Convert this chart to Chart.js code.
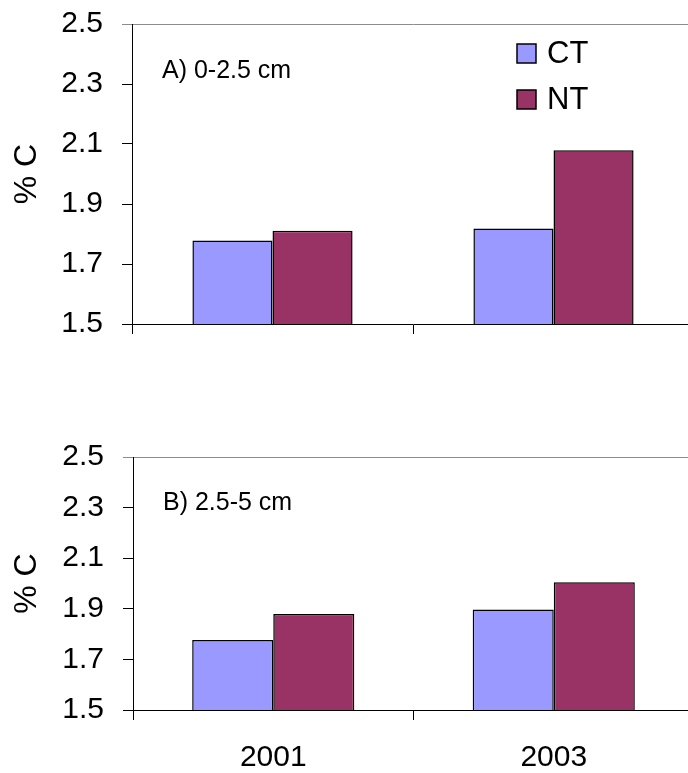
<!DOCTYPE html>
<html>
<head>
<meta charset="utf-8">
<script src="https://cdn.jsdelivr.net/npm/chart.js@4/dist/chart.umd.min.js"></script>
<style>
  html, body { margin: 0; padding: 0; background: #fff; overflow: hidden; width: 688px; height: 773px; }
  .panel { position: absolute; left: 0; width: 700px; }
</style>
</head>
<body>
<div class="panel" style="top:0;height:345px"><canvas id="chartA" width="700" height="345"></canvas></div>
<div class="panel" style="top:440px;height:333px"><canvas id="chartB" width="700" height="333"></canvas></div>
<script>
// data
const years = ['2001', '2003'];
const seriesNames = ['CT', 'NT'];
const ctShallow = [1.778, 1.818];   // A) 0-2.5 cm
const ntShallow = [1.811, 2.079];
const ctDeep = [1.777, 1.897];      // B) 2.5-5 cm
const ntDeep = [1.879, 2.005];
const yMin = 1.5, yMax = 2.5, yStep = 0.2;

const CT_COLOR = '#9999FF';
const NT_COLOR = '#993366';
const FONT = '"Liberation Sans", Arial, Helvetica, sans-serif';

Chart.defaults.font.family = FONT;
Chart.defaults.color = '#000';

// panel label + legend drawn on top of the plot
const panelText = {
  id: 'panelText',
  afterDraw(chart, args, opts) {
    const ctx = chart.ctx;
    ctx.save();
    ctx.fillStyle = '#000';
    ctx.textBaseline = 'alphabetic';
    ctx.font = '25px ' + FONT;
    ctx.fillText(opts.label, opts.labelX, opts.labelY);
    if (opts.legend) {
      ctx.font = '31px ' + FONT;
      chart.data.datasets.forEach((ds, i) => {
        const y = 44 + i * 46;
        ctx.fillStyle = ds.backgroundColor;
        ctx.fillRect(517, y, 19, 19);
        ctx.strokeStyle = '#000';
        ctx.lineWidth = 1.5;
        ctx.strokeRect(517, y, 19, 19);
        ctx.fillStyle = '#000';
        ctx.fillText(ds.label, 547, y + 18.5);
      });
    }
    ctx.restore();
  }
};

function makeChart(id, ct, nt, cfg) {
  return new Chart(document.getElementById(id), {
    type: 'bar',
    data: {
      labels: years,
      datasets: [
        { label: seriesNames[0], data: ct, backgroundColor: CT_COLOR, borderColor: '#000', borderWidth: 1.5 },
        { label: seriesNames[1], data: nt, backgroundColor: NT_COLOR, borderColor: '#000', borderWidth: 1.5 }
      ]
    },
    options: {
      responsive: false,
      animation: false,
      layout: { padding: { top: cfg.top, right: 6, bottom: 0, left: 0 } },
      datasets: { bar: { categoryPercentage: cfg.catPct, barPercentage: 1 } },
      plugins: {
        legend: { display: false },
        tooltip: { enabled: false },
        panelText: cfg.text
      },
      scales: {
        x: {
          offset: true,
          grid: { drawOnChartArea: false, offset: true, tickLength: 10, color: '#000' },
          border: { color: '#000', width: 1 },
          ticks: { display: cfg.showYears, font: { size: 30, lineHeight: 1.2 }, color: '#000', padding: 20 },
          afterFit: s => { s.height = cfg.xHeight; s.paddingLeft = 0; s.paddingRight = 0; }
        },
        y: {
          min: yMin,
          max: yMax,
          ticks: {
            stepSize: yStep,
            font: { size: 30, lineHeight: 1 },
            color: '#000',
            padding: 19,
            callback: v => Number(v).toFixed(1)
          },
          grid: {
            tickLength: 10,
            color: c => (c.tick && Math.abs(c.tick.value - yMax) < 1e-6) ? '#8c8c8c' : 'rgba(0,0,0,0)',
            tickColor: c => (c.tick && Math.abs(c.tick.value - yMax) < 1e-6) ? '#8c8c8c' : '#000'
          },
          border: { color: '#000', width: 1 },
          title: { display: true, text: '% C', font: { size: 32 }, color: '#000', padding: { top: 8 } },
          afterFit: s => { s.width = cfg.left; s.paddingTop = 0; s.paddingBottom = 0; }
        }
      }
    },
    plugins: [panelText]
  });
}

makeChart('chartA', ctShallow, ntShallow, {
  top: 24, left: 132, xHeight: 21, catPct: 0.57, showYears: false,
  text: { label: 'A) 0-2.5 cm', labelX: 162, labelY: 78, legend: true }
});

makeChart('chartB', ctDeep, ntDeep, {
  top: 17, left: 133, xHeight: 63, catPct: 0.578, showYears: true,
  text: { label: 'B) 2.5-5 cm', labelX: 163, labelY: 70, legend: false }
});
</script>
</body>
</html>
